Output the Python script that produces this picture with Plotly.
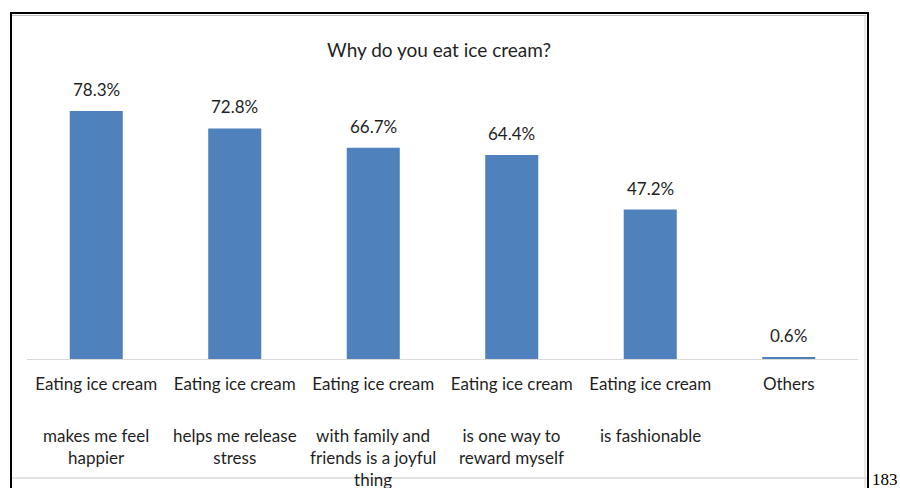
import plotly.graph_objects as go

categories = ["c1", "c2", "c3", "c4", "c5", "c6"]
first_lines = ["Eating ice cream", "Eating ice cream", "Eating ice cream",
               "Eating ice cream", "Eating ice cream", "Others"]
second_lines = ["makes me feel<br>happier", "helps me release<br>stress",
                "with family and<br>friends is a joyful<br>thing",
                "is one way to<br>reward myself", "is fashionable", ""]
values = [78.3, 72.8, 66.7, 64.4, 47.2, 0.6]
value_labels = ["78.3%", "72.8%", "66.7%", "64.4%", "47.2%", "0.6%"]

FONT = "Lato"
TXT = "#1F1F1F"
L, R, T, B = 27, 42, 74, 129
PW, PH = 900 - L - R, 488 - T - B

fig = go.Figure(go.Bar(x=categories, y=values, marker_color="#4F81BD",
                       marker_line_width=0, hoverinfo="skip"))

ann = []
for c, v, t in zip(categories, values, value_labels):
    ann.append(dict(x=c, y=v, xref="x", yref="y", text=t, showarrow=False,
                    yanchor="bottom", yshift=9, font=dict(family=FONT, size=17, color=TXT)))
for c, t in zip(categories, second_lines):
    if t:
        ann.append(dict(x=c, y=0, xref="x", yref="paper", text=t, showarrow=False,
                        yanchor="top", yshift=-64, font=dict(family=FONT, size=17, color=TXT)))
ann.append(dict(x=(870 - 27) / PW, y=-(479 - (T + PH)) / PH, xref="paper", yref="paper",
                text="183", showarrow=False, xanchor="left", yanchor="middle",
                font=dict(family="Liberation Serif", size=17, color="#000000")))

def px_x(p):
    return (p - L) / PW

def px_y(p):
    return (T + PH - p) / PH

shapes = [
    dict(type="line", xref="paper", yref="paper", x0=px_x(11), x1=px_x(11), y0=px_y(12), y1=px_y(520),
         line=dict(color="#000000", width=2)),
    dict(type="line", xref="paper", yref="paper", x0=px_x(11), x1=px_x(868), y0=px_y(13), y1=px_y(13),
         line=dict(color="#000000", width=2)),
    dict(type="line", xref="paper", yref="paper", x0=px_x(12), x1=px_x(866), y0=px_y(15.5), y1=px_y(15.5),
         line=dict(color="#BFBFBF", width=1)),
    dict(type="line", xref="paper", yref="paper", x0=px_x(868), x1=px_x(868), y0=px_y(12), y1=px_y(520),
         line=dict(color="#000000", width=2)),
    dict(type="line", xref="paper", yref="paper", x0=px_x(865), x1=px_x(865), y0=px_y(15), y1=px_y(520),
         line=dict(color="#D0D0D0", width=1)),
    dict(type="line", xref="paper", yref="paper", x0=px_x(12), x1=px_x(867), y0=px_y(478), y1=px_y(478),
         line=dict(color="#D9D9D9", width=1.5)),
]

fig.update_layout(
    width=900, height=488,
    margin=dict(l=L, r=R, t=T, b=B, pad=0),
    paper_bgcolor="white", plot_bgcolor="white",
    bargap=0.617,
    showlegend=False,
    title=dict(text="Why do you eat ice cream?", x=439 / 900, xanchor="center",
               xref="container", y=1 - 50 / 488, yanchor="middle", yref="container",
               font=dict(family=FONT, size=19, color=TXT)),
    xaxis=dict(tickmode="array", tickvals=categories, ticktext=first_lines,
               showline=True, linecolor="#D9D9D9", linewidth=1, ticks="",
               ticklabelstandoff=10, showgrid=False, zeroline=False,
               tickfont=dict(family=FONT, size=17, color=TXT), fixedrange=True),
    yaxis=dict(range=[0, 90], visible=False, showgrid=False, zeroline=False, fixedrange=True),
    annotations=ann,
    shapes=shapes,
)

fig.write_html("out.html")
